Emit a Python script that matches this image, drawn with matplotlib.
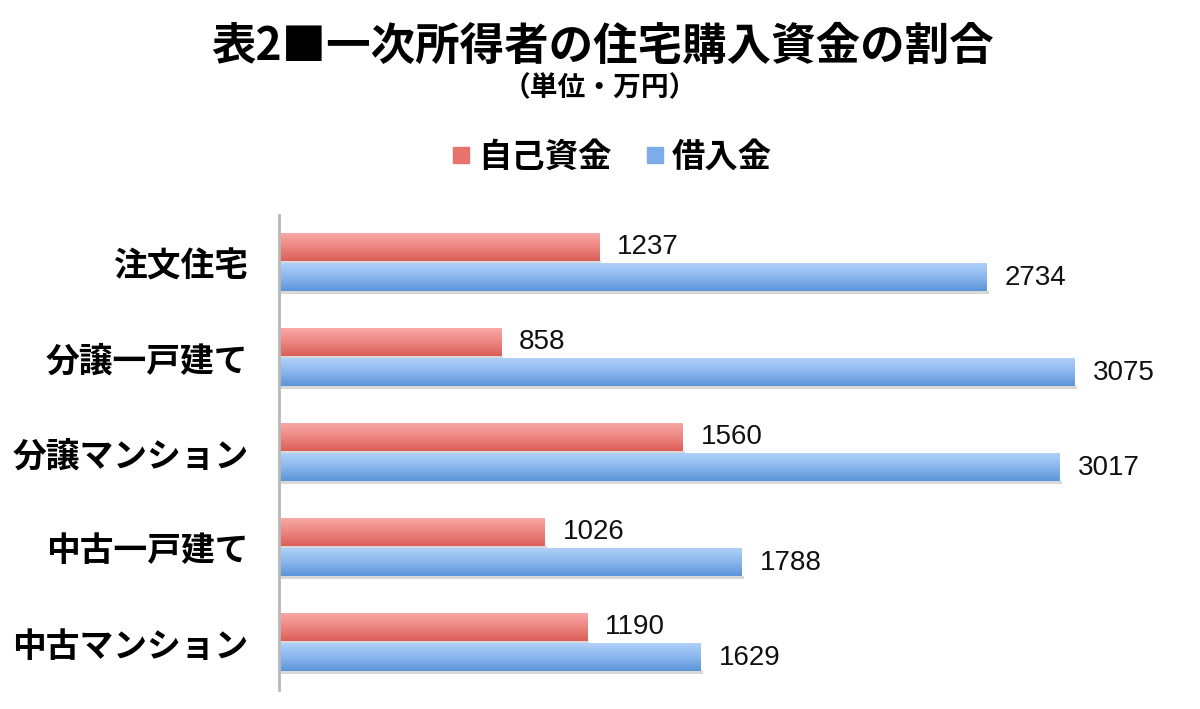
import numpy as np
import matplotlib
matplotlib.use("Agg")
import matplotlib.pyplot as plt
from matplotlib.colors import LinearSegmentedColormap
from matplotlib.lines import Line2D

plt.rcParams['font.family'] = ['Noto Sans CJK JP', 'DejaVu Sans']

categories = ["注文住宅", "分譲一戸建て", "分譲マンション", "中古一戸建て", "中古マンション"]
own_funds = [1237, 858, 1560, 1026, 1190]
borrowed = [2734, 3075, 3017, 1788, 1629]
series_names = ["自己資金", "借入金"]
title = "表2■一次所得者の住宅購入資金の割合"
subtitle = "（単位・万円）"

red_cmap = LinearSegmentedColormap.from_list("r", ["#f8a8a6", "#ec8580", "#dc5f58"])
blue_cmap = LinearSegmentedColormap.from_list("b", ["#b0d0f8", "#8ab6ee", "#5b95d8"])

fig = plt.figure(figsize=(12, 7.09), dpi=100)
ax = fig.add_axes([279/1200, 1-690/709, (1185-279)/1200, (690-215)/709])

y = np.arange(len(categories))
h = 0.29
off = 0.16
bars_r = ax.barh(y - off, own_funds, height=h, color="none", edgecolor="none")
bars_b = ax.barh(y + off, borrowed, height=h, color="none", edgecolor="none")

grad = np.linspace(0, 1, 64).reshape(-1, 1)
for bars, cmap in ((bars_r, red_cmap), (bars_b, blue_cmap)):
    for p in bars:
        x0, yb = p.get_x(), p.get_y()
        w, hh = p.get_width(), p.get_height()
        # subtle shadow
        ax.fill_between([x0, x0 + w + 8], yb + hh, yb + hh + 0.025, color="#d8d8d8", lw=0, zorder=1)
        ax.imshow(grad, extent=[x0, x0 + w, yb + hh, yb], origin='upper', aspect='auto',
                  cmap=cmap, zorder=2, interpolation='bilinear')

for yy, v in zip(y - off, own_funds):
    ax.annotate(f"{v}", (v, yy), xytext=(13, 0), textcoords="offset points",
                va="center", ha="left", fontsize=20, family=["Liberation Sans", "DejaVu Sans"], color="#111111")
for yy, v in zip(y + off, borrowed):
    ax.annotate(f"{v}", (v, yy), xytext=(13, 0), textcoords="offset points",
                va="center", ha="left", fontsize=20, family=["Liberation Sans", "DejaVu Sans"], color="#111111")

ax.set_xlim(0, 3500)
ax.set_ylim(len(categories) - 0.5, -0.5)
ax.set_yticks(y)
ax.set_yticklabels(categories, fontsize=24.3, fontweight="bold")
ax.tick_params(axis="y", length=0, pad=22)
ax.set_xticks([])
for s in ["top", "right", "bottom"]:
    ax.spines[s].set_visible(False)
ax.spines["left"].set_color("#b8b8b8")
ax.spines["left"].set_linewidth(2)

fig.text(0.5025, 1-47/709, title, ha="center", va="center", fontsize=32, fontweight="bold")
fig.text(0.5, 1-88/709, subtitle, ha="center", va="center", fontsize=20, fontweight="bold")

handles = [Line2D([], [], marker="s", ls="none", markersize=11, color="#e8736e"),
           Line2D([], [], marker="s", ls="none", markersize=11, color="#7eacea")]
fig.legend(handles, series_names, loc="center", bbox_to_anchor=(0.508, 1-157/709), ncol=2,
           frameon=False, prop={"size": 24, "weight": "bold"}, handletextpad=0.1,
           columnspacing=0.9, handlelength=0.8)

fig.savefig("out.png", dpi=100, facecolor="white")
